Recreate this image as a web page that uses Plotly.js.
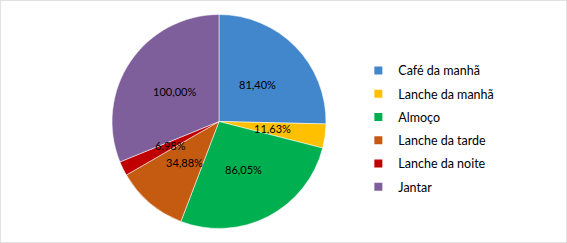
<!DOCTYPE html>
<html><head><meta charset="utf-8">
<script src="https://cdn.plot.ly/plotly-3.0.1.min.js"></script>
<style>html,body{margin:0;padding:0;background:#fff}#chart{width:567px;height:243px}</style>
</head><body><div id="chart"></div>
<script>
var categories = ["Café da manhã","Lanche da manhã","Almoço","Lanche da tarde","Lanche da noite","Jantar"];
var values = [81.40, 11.63, 86.05, 34.88, 6.98, 100.00];
var labelsText = ["81,40%","11,63%","86,05%","34,88%","6,98%","100,00%"];
var colors = ["#4286CB","#FFC000","#00B050","#C55A11","#C00000","#7F5F9B"];

var W = 567, H = 243;
var dom = {x: [0.1975, 0.575], y: [0.0597, 0.9403]};

var pie = {
  type: "pie",
  labels: categories,
  values: values,
  text: labelsText,
  textinfo: "none",
  sort: false,
  direction: "clockwise",
  rotation: 0,
  showlegend: false,
  marker: {colors: colors, line: {color: "rgba(255,255,255,0.7)", width: 0.75}},
  domain: dom,
  hoverinfo: "label+text"
};

// legend entries (one per category, each in its own group for spacing)
var legendTraces = categories.map(function (c, i) {
  return {type: "scatter", mode: "markers", x: [null], y: [null], name: c,
          legendgroup: "g" + i, showlegend: true,
          marker: {symbol: "square", size: 8, color: colors[i]}, hoverinfo: "skip"};
});

// data labels placed at half radius along each slice's mid angle
var total = values.reduce(function (a, b) { return a + b; }, 0);
var R = Math.min((dom.x[1] - dom.x[0]) * W, (dom.y[1] - dom.y[0]) * H) / 2;
var cx = (dom.x[0] + dom.x[1]) / 2 * W, cy = (1 - (dom.y[0] + dom.y[1]) / 2) * H;
var annotations = [], cum = 0;
values.forEach(function (v, i) {
  var mid = (cum + v / 2) / total * 2 * Math.PI; cum += v;
  var px = cx + Math.sin(mid) * R * 0.5, py = cy - Math.cos(mid) * R * 0.5;
  annotations.push({xref: "paper", yref: "paper", x: px / W, y: 1 - py / H,
    xanchor: "center", yanchor: "middle", showarrow: false, text: labelsText[i],
    font: {family: "Lato, sans-serif", size: 11, color: "#000"}});
});

var layout = {
  width: W, height: H,
  margin: {l: 0, r: 0, t: 0, b: 0},
  paper_bgcolor: "#fff", plot_bgcolor: "rgba(0,0,0,0)",
  xaxis: {visible: false}, yaxis: {visible: false},
  showlegend: true,
  legend: {x: 0.632, xanchor: "left", y: 0.47, yanchor: "middle", tracegroupgap: 4,
           itemclick: false,
           font: {family: "Lato, sans-serif", size: 12.5, color: "#000"}},
  annotations: annotations,
  shapes: [{type: "rect", xref: "paper", yref: "paper", x0: 0, x1: 1, y0: 0, y1: 1,
            line: {color: "#D9D9D9", width: 1.5}}]
};

Plotly.newPlot("chart", [pie].concat(legendTraces), layout, {displayModeBar: false, staticPlot: true});
</script></body></html>
